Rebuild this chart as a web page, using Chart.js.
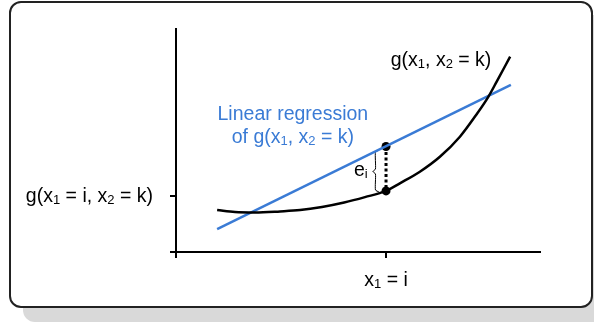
<!DOCTYPE html>
<html>
<head>
<meta charset="utf-8">
<script src="https://cdn.jsdelivr.net/npm/chart.js@4.4.1/dist/chart.umd.min.js"></script>
<style>
  html, body { margin: 0; padding: 0; background: #fff; }
  #card {
    position: absolute; left: 9px; top: 1px;
    width: 580px; height: 303px;
    border: 2px solid #222; border-radius: 12px;
    box-shadow: 14px 14px 0 #d9d9d9; background: #fff;
  }
  #c { position: absolute; left: 0; top: 0; }
</style>
</head>
<body>
<div id="card"></div>
<canvas id="c" width="594" height="327"></canvas>
<script>
// Schematic: linearising g(x1, x2 = k) around x1 = i
// Units are arbitrary (0..100 on both axes)

const CURVE_X = [11.3, 16.2, 21.7, 28.6, 34.1, 40.1, 46.2, 51.9, 57.7, 61.5, 67.0, 72.5, 78.0, 82.6, 85.8, 88.1, 91.8];
const CURVE_Y = [18.8, 17.9, 17.7, 18.2, 18.8, 20.2, 22.2, 24.6, 27.4, 30.8, 36.0, 42.7, 51.7, 61.8, 69.6, 76.4, 87.6];

const FIT_X = [11.3, 92.0];
const FIT_Y = [10.3, 74.9];

const X_I = 57.7;        // x1 = i
const G_AT_I = 27.4;     // curve value at i
const FIT_AT_I = 47.3;   // regression value at i
const Y_TICK = 25.1;     // y tick for g(x1 = i, x2 = k)

// curly brace next to the residual
const BRACE_X = [55.8, 54.8, 54.8, 54.1, 54.8, 54.8, 55.8];
const BRACE_Y = [45.7, 44.8, 37.2, 36.1, 35.0, 27.8, 26.9];

const BLUE = '#3a7bd5';
const FONT = '"Liberation Sans", Arial, sans-serif';

const xy = (xs, ys) => xs.map((x, i) => ({ x: x, y: ys[i] }));

// draws text with subscript runs: runs = [[text, isSub], ...]
function drawRich(ctx, runs, x, y, align, color) {
  const big = '19.5px ' + FONT, small = '13px ' + FONT;
  let w = 0;
  runs.forEach(r => { ctx.font = r[1] ? small : big; w += ctx.measureText(r[0]).width; });
  let cx = align === 'right' ? x - w : align === 'center' ? x - w / 2 : x;
  ctx.fillStyle = color;
  ctx.textBaseline = 'alphabetic';
  ctx.textAlign = 'left';
  runs.forEach(r => {
    ctx.font = r[1] ? small : big;
    ctx.fillText(r[0], cx, r[1] ? y + 2 : y);
    cx += ctx.measureText(r[0]).width;
  });
}

const labelsPlugin = {
  id: 'labels',
  afterDatasetsDraw(chart) {
    const ctx = chart.ctx, xs = chart.scales.x, ys = chart.scales.y;
    const px = v => xs.getPixelForValue(v), py = v => ys.getPixelForValue(v);
    ctx.save();
    drawRich(ctx, [['g(x'], ['1', 1], [', x'], ['2', 1], [' = k)']], px(59.0), py(83.3), 'left', '#000');
    drawRich(ctx, [['Linear regression']], px(32.1), py(59.2), 'center', BLUE);
    drawRich(ctx, [['of g(x'], ['1', 1], [', x'], ['2', 1], [' = k)']], px(32.1), py(48.9), 'center', BLUE);
    drawRich(ctx, [['e'], ['i', 1]], px(48.9), py(34.1), 'left', '#000');
    drawRich(ctx, [['g(x'], ['1', 1], [' = i, x'], ['2', 1], [' = k)']], chart.chartArea.left - 23, py(Y_TICK) + 6, 'right', '#000');
    drawRich(ctx, [['x'], ['1', 1], [' = i']], px(X_I), chart.chartArea.bottom + 34, 'center', '#000');
    ctx.restore();
  }
};

const axisCommon = {
  type: 'linear',
  min: 0,
  max: 100,
  ticks: { display: false },
  grid: { drawOnChartArea: false, drawTicks: true, tickLength: 6, color: '#000', lineWidth: 2 },
  border: { display: true, color: '#000', width: 2 }
};

new Chart(document.getElementById('c'), {
  type: 'scatter',
  data: {
    datasets: [
      {
        type: 'line', data: xy(CURVE_X, CURVE_Y),
        borderColor: '#000', borderWidth: 2.5, pointRadius: 0,
        tension: 0.4, cubicInterpolationMode: 'monotone'
      },
      {
        type: 'line', data: xy(FIT_X, FIT_Y),
        borderColor: BLUE, borderWidth: 2.5, pointRadius: 0
      },
      {
        type: 'line', data: xy(BRACE_X, BRACE_Y),
        borderColor: '#000', borderWidth: 1, pointRadius: 0, tension: 0.2
      },
      {
        type: 'line', data: xy([X_I, X_I], [FIT_AT_I, G_AT_I]),
        borderColor: '#000', borderWidth: 3, borderDash: [3, 2.5],
        pointRadius: 4.5, pointBackgroundColor: '#000', pointBorderWidth: 0
      }
    ]
  },
  options: {
    responsive: false,
    animation: false,
    events: [],
    layout: { padding: { left: 0, top: 29, right: 54, bottom: 0 } },
    plugins: { legend: { display: false }, tooltip: { enabled: false } },
    scales: {
      x: Object.assign({}, axisCommon, {
        afterBuildTicks: s => { s.ticks = [{ value: 0 }, { value: X_I }]; },
        afterFit: s => { s.height = 75; }
      }),
      y: Object.assign({}, axisCommon, {
        afterBuildTicks: s => { s.ticks = [{ value: 0 }, { value: Y_TICK }]; },
        afterFit: s => { s.width = 176; }
      })
    }
  },
  plugins: [labelsPlugin]
});
</script>
</body>
</html>
